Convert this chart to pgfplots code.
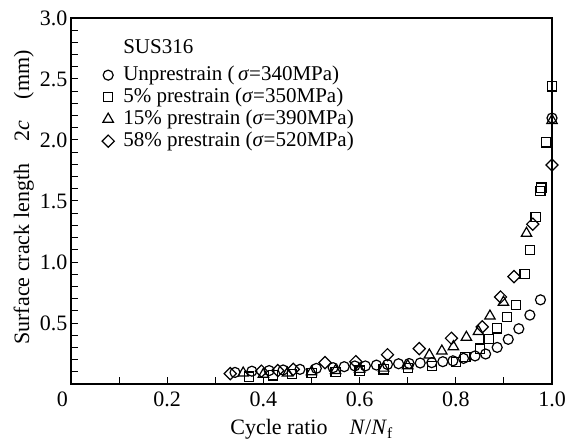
\documentclass[border=0pt]{standalone}
\usepackage{fontspec}
\setmainfont{Liberation Serif}
\usepackage{pgfplots}
\pgfplotsset{compat=1.18}
\begin{document}
\begin{tikzpicture}
\useasboundingbox (-71pt,-57pt) rectangle (496pt,384pt);
\begin{axis}[
  at={(0pt,0pt)}, anchor=south west,
  scale only axis, width=481pt, height=366pt,
  xmin=0, xmax=1, ymin=0, ymax=3,
  axis line style={line width=1.2pt},
  tick pos=left, tick align=inside,
  major tick length=7pt, minor tick length=7pt,
  every tick/.style={black, line width=1pt},
  xtick={0,0.2,0.4,0.6,0.8,1},
  xticklabels={\makebox[0pt][r]{0\hspace{3pt}},0.2,0.4,0.6,0.8,1.0},
  minor xtick={0.1,0.3,0.5,0.7,0.9},
  ytick={0.5,1,1.5,2,2.5,3},
  yticklabels={0.5,1.0,1.5,2.0,2.5,3.0},
  minor ytick={0.1,0.2,0.3,0.4,0.6,0.7,0.8,0.9,1.1,1.2,1.3,1.4,1.6,1.7,1.8,1.9,2.1,2.2,2.3,2.4,2.6,2.7,2.8,2.9},
  ticklabel style={font=\fontsize{22}{24}\selectfont},
  xticklabel style={yshift=-4pt},
  xlabel={Cycle ratio\quad \textit{N}/\textit{N}\textsubscript{f}},
  ylabel={Surface crack length\quad 2\textit{c}\quad (mm)},
  label style={font=\fontsize{22}{24}\selectfont},
  xlabel style={at={(axis description cs:0.5,-0.124)}, anchor=center},
  ylabel style={at={(axis description cs:-0.098,0.51)}, anchor=center},
  legend style={draw=none, fill=none, at={(axis description cs:0.058,0.94)}, anchor=north west,
    font=\fontsize{21}{23}\selectfont, nodes={text height=15pt, text depth=5pt, inner ysep=1pt}, column sep=7pt},
  legend cell align=left,
  legend image code/.code={\draw[#1] plot coordinates {(0pt,0pt)};},
  mk/.style={only marks, mark options={line width=1.2pt, draw=black, fill=white, solid}},
  dm/.style={only marks, mark=square, mark size=4.3pt, mark options={line width=1.2pt, draw=black, fill=white, solid, rotate=45}},
]
\addlegendimage{empty legend}\addlegendentry{\raisebox{5pt}{SUS316}}
\addlegendimage{mk, mark=o, mark size=5pt}\addlegendentry{Unprestrain (\,\textit{σ}=340MPa)}
\addlegendimage{mk, mark=square, mark size=4.6pt}\addlegendentry{5\% prestrain (\textit{σ}=350MPa)}
\addlegendimage{mk, mark=triangle, mark size=6pt}\addlegendentry{15\% prestrain (\textit{σ}=390MPa)}
\addlegendimage{dm}\addlegendentry{58\% prestrain (\textit{σ}=520MPa)}

% 5% prestrain (squares)
\addplot[mk, mark=square, mark size=4.6pt, forget plot] coordinates {
(0.37,0.06)(0.42,0.07)(0.46,0.08)(0.50,0.09)(0.55,0.10)(0.60,0.11)(0.65,0.12)(0.70,0.13)(0.75,0.15)(0.80,0.18)
(0.82,0.22)(0.85,0.29)(0.868,0.37)(0.886,0.456)(0.906,0.547)(0.925,0.65)(0.943,0.90)(0.954,1.10)(0.966,1.37)
(0.976,1.58)(0.978,1.61)(0.9875,1.98)(1.0,2.44)};
% 15% prestrain (triangles)
\addplot[mk, mark=triangle, mark size=6pt, forget plot] coordinates {
(0.358,0.09)(0.40,0.08)(0.45,0.09)(0.50,0.10)(0.55,0.11)(0.60,0.12)(0.65,0.13)(0.70,0.15)
(0.745,0.238)(0.771,0.27)(0.795,0.306)(0.822,0.383)(0.847,0.43)(0.871,0.557)(0.899,0.67)(0.947,1.235)(1.0,2.16)};
% Unprestrain (circles)
\addplot[mk, mark=o, mark size=5pt, forget plot] coordinates {
(0.341,0.095)(0.376,0.105)(0.412,0.11)(0.441,0.115)(0.476,0.12)(0.51,0.128)(0.545,0.134)(0.568,0.142)
(0.59,0.148)(0.612,0.148)(0.635,0.155)(0.658,0.16)(0.681,0.166)(0.703,0.168)(0.726,0.172)(0.75,0.175)
(0.773,0.183)(0.794,0.19)(0.816,0.21)(0.84,0.23)(0.862,0.246)(0.886,0.30)(0.909,0.366)(0.931,0.453)
(0.954,0.565)(0.976,0.69)(1.0,2.18)};
% 58% prestrain (diamonds)
\addplot[dm, forget plot] coordinates {
(0.331,0.085)(0.396,0.105)(0.43,0.11)(0.462,0.12)(0.528,0.175)(0.592,0.183)(0.658,0.24)(0.724,0.29)
(0.791,0.375)(0.855,0.468)(0.893,0.713)(0.921,0.88)(0.96,1.31)(1.0,1.795)};
\end{axis}
\end{tikzpicture}
\end{document}
